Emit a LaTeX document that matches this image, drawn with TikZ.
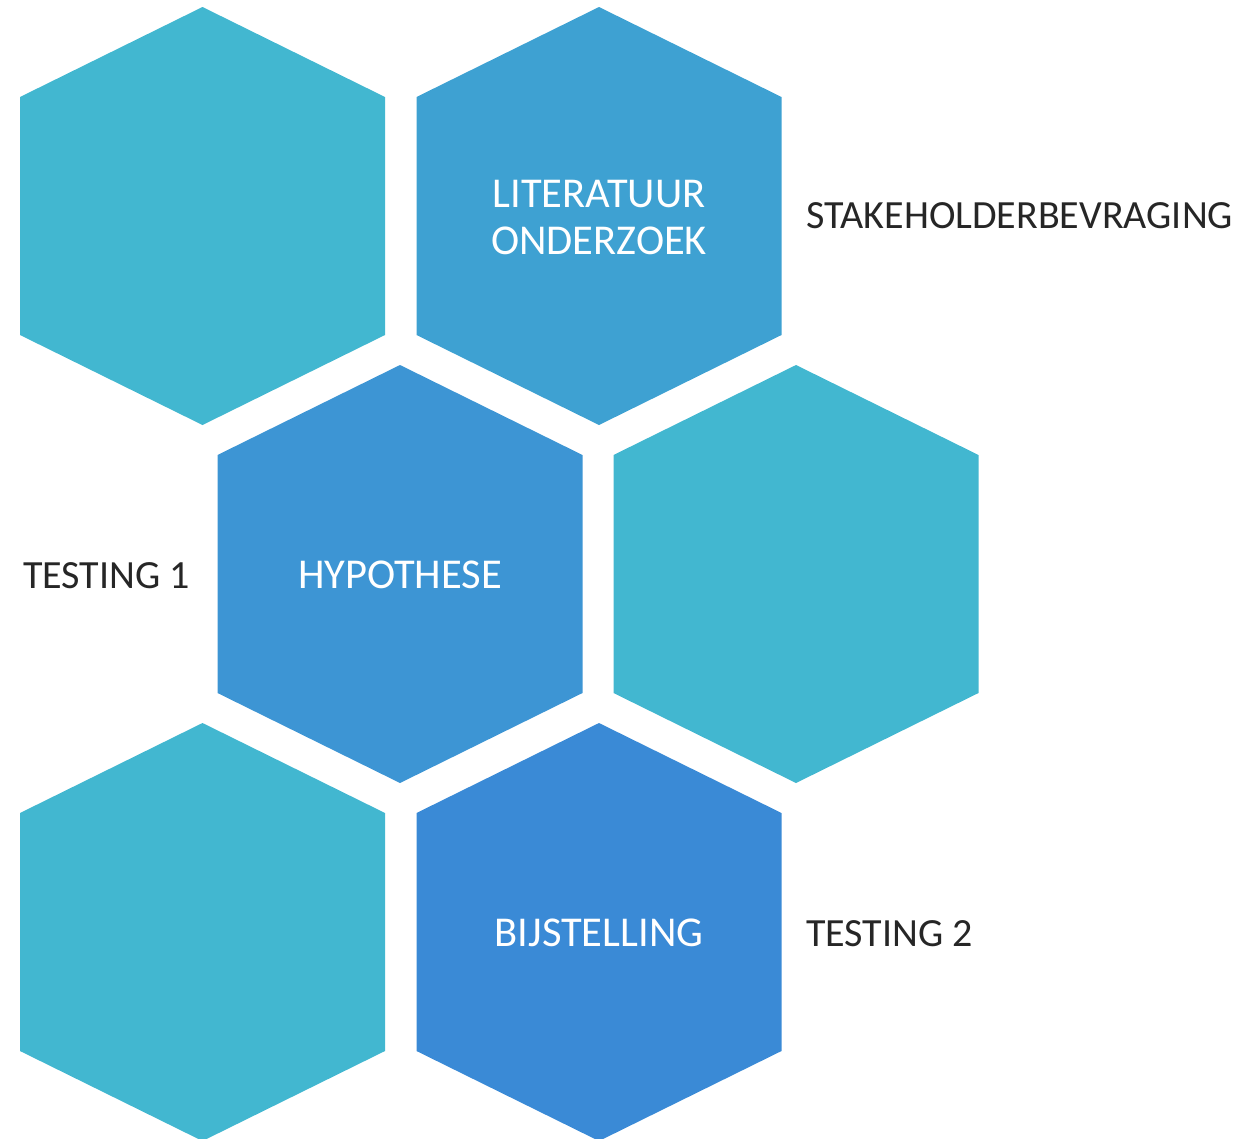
\documentclass[tikz,border=0pt]{standalone}
\usepackage{fontspec}
\setmainfont{Carlito}
\definecolor{tealhex}{RGB}{66,183,208}
\definecolor{bluehexA}{RGB}{62,161,210}
\definecolor{bluehexB}{RGB}{61,149,212}
\definecolor{bluehexC}{RGB}{58,138,214}
\definecolor{darktext}{RGB}{38,38,38}
\tikzset{
  hexfill/.style={fill=#1},
  hextext/.style={text=white, font=\fontsize{42.5}{47}\selectfont, align=center, inner sep=0pt},
  sidetext/.style={text=darktext, font=\fontsize{40}{47}\selectfont, inner sep=0pt}
}
\newcommand{\hexpath}[2]{%
  \fill[hexfill=#2] (#1) ++(0,-209) -- ++(182.5,90) -- ++(0,238) -- ++(-182.5,90) -- ++(-182.5,-90) -- ++(0,-238) -- cycle;}
\begin{document}
\begin{tikzpicture}[x=1pt,y=-1pt]
\useasboundingbox (0,0) rectangle (1253,1138);
\clip (0,0) rectangle (1253,1138);
\coordinate (h1) at (202.5,216);
\coordinate (h2) at (599,216);
\coordinate (h3) at (400,574);
\coordinate (h4) at (796,574);
\coordinate (h5) at (202.5,932);
\coordinate (h6) at (599,932);
\hexpath{h1}{tealhex}
\hexpath{h2}{bluehexA}
\hexpath{h3}{bluehexB}
\hexpath{h4}{tealhex}
\hexpath{h5}{tealhex}
\hexpath{h6}{bluehexC}
\node[hextext, anchor=base] (lit) at (599,254) {LITERATUUR\\ONDERZOEK};
\node[hextext, anchor=base] (hyp) at (400,588) {HYPOTHESE};
\node[hextext, anchor=base] (bij) at (599,946) {BIJSTELLING};
\node[sidetext, anchor=base west] (stake) at (806,228) {STAKEHOLDERBEVRAGING};
\node[sidetext, anchor=base west] (test1) at (23,588) {TESTING 1};
\node[sidetext, anchor=base west] (test2) at (806,946) {TESTING 2};
\end{tikzpicture}
\end{document}
